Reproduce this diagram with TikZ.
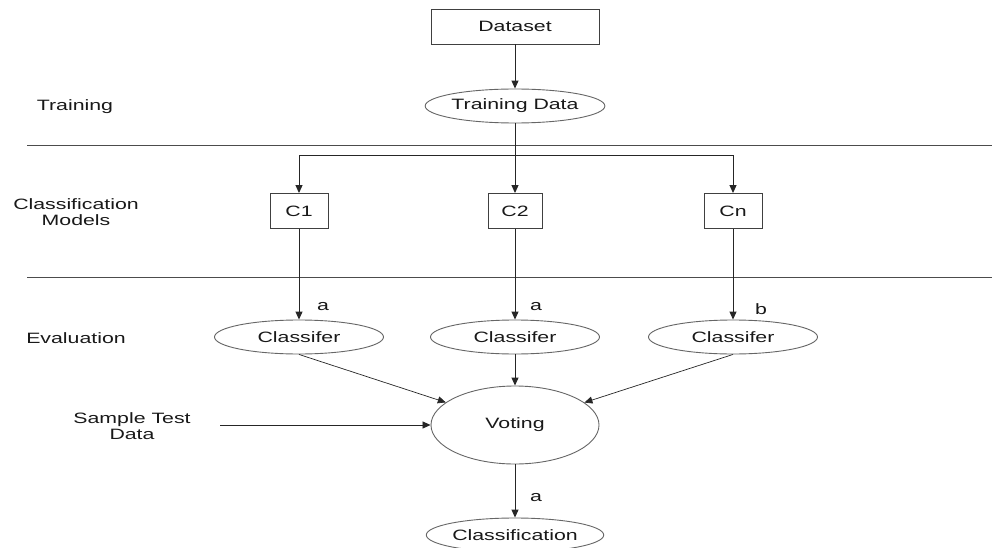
\documentclass[tikz,border=0pt]{standalone}
\usepackage{fontspec}
\setmainfont{Liberation Sans}[FakeStretch=1.42]
\usetikzlibrary{shapes.geometric,arrows.meta}
\begin{document}
\begin{tikzpicture}[x=1pt,y=-1pt,
  every node/.style={font=\fontsize{15}{16}\selectfont, text=black!90},
  box/.style={draw=black!75, line width=0.9pt, rectangle, inner sep=0pt},
  oval/.style={draw=black!60, line width=0.9pt, ellipse, inner sep=0pt,
               minimum width=168pt, minimum height=34pt},
  flow/.style={draw=black!85, line width=1pt, -{Triangle[length=8pt,width=7pt]}},
  thin flow/.style={flow, line width=0.7pt},
  sep/.style={draw=black!70, line width=0.8pt},
  side/.style={align=center, font=\fontsize{15}{16}\selectfont}]
\clip (0,0) rectangle (992,548);
\fill[white] (0,0) rectangle (992,548);

% section separators
\coordinate (s1l) at (27,145);  \coordinate (s1r) at (992,145);
\coordinate (s2l) at (27,277);  \coordinate (s2r) at (992,277);
\draw[sep] (s1l) -- (s1r);
\draw[sep] (s2l) -- (s2r);

% stage labels
\node[side] (ltrain) at (75,107) {Training};
\node[side] (lmodels) at (76,212) {Classification\\Models};
\node[side] (leval) at (76,338) {Evaluation};
\node[side] (lsample) at (132,426) {Sample Test\\Data};

% nodes
\node[box, minimum width=168pt, minimum height=35pt] (data) at (515,26.5) {Dataset};
\node[oval] (train) at (515,106) {Training Data};
\node[box, minimum width=58pt, minimum height=35pt] (c1) at (299,211) {C1};
\node[box, minimum width=54pt, minimum height=35pt] (c2) at (515,211) {C2};
\node[box, minimum width=58pt, minimum height=35pt] (cn) at (733,211) {Cn};
\node[oval, minimum width=169pt] (k1) at (299,337) {Classifer};
\node[oval, minimum width=169pt] (k2) at (515,337) {Classifer};
\node[oval, minimum width=169pt] (kn) at (733,337) {Classifer};
\node[oval, minimum height=78pt] (vote) at (515,425) {Voting};
\node[oval] (result) at (515,535) {Classification};

% connectors
\coordinate (split) at (515,156);
\coordinate (sample) at (220,425);
\draw[flow] (data) -- (train);
\draw[draw=black!85, line width=1pt] (train) -- (split);
\draw[flow] (split) -| (c1.north);
\draw[flow] (split) -- (c2);
\draw[flow] (split) -| (cn.north);
\draw[flow] (c1) -- (k1);
\draw[flow] (c2) -- (k2);
\draw[flow] (cn) -- (kn);
\draw[thin flow] (k1.south) -- (vote);
\draw[flow] (k2) -- (vote);
\draw[thin flow] (kn.south) -- (vote);
\draw[thin flow] (sample) -- (vote);
\draw[flow] (vote) -- (result);

% edge labels
\node (la1) at (323,307) {a};
\node (la2) at (536,307) {a};
\node (lb) at (761,309) {b};
\node (la3) at (536,498) {a};
\end{tikzpicture}
\end{document}
